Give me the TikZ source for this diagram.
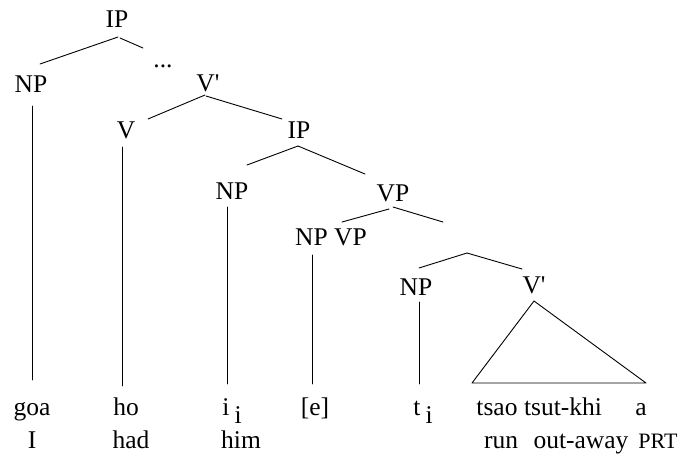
\documentclass[tikz,border=0pt]{standalone}
\usepackage{fontspec}
\setmainfont{Liberation Serif}
\begin{document}
\begin{tikzpicture}[x=1pt,y=-1pt,
  cat/.style={anchor=base,inner sep=0pt,font=\fontsize{25.5}{30}\selectfont},
  word/.style={anchor=base,inner sep=0pt,font=\fontsize{25.5}{30}\selectfont},
  branch/.style={line width=0.9pt,line cap=round}]
\useasboundingbox (0,0) rectangle (682,456);

% category labels
\node[cat] (ip1) at (117,27) {IP};
\node[cat] (dots) at (163,67) {...};
\node[cat] (np1) at (31,92) {NP};
\node[cat] (vbar1) at (208,91) {V\textquotesingle};
\node[cat] (v) at (126,138) {V};
\node[cat] (ip2) at (299,138) {IP};
\node[cat] (np2) at (232,199) {NP};
\node[cat] (vp1) at (393,201) {VP};
\node[cat] (npvp) at (331,245) {NP VP};
\node[cat] (np3) at (416,295) {NP};
\node[cat] (vbar2) at (534,293) {V\textquotesingle};

% first row of words
\node[word] (goa) at (32,415) {goa};
\node[word] (ho) at (126,415) {ho};
\node[word] (ii) at (232,415) {i\hspace{5pt}\raisebox{-8pt}{i}};
\node[word] (e) at (315,415) {[e]};
\node[word] (ti) at (423,415) {t\hspace{5pt}\raisebox{-8pt}{i}};
\node[word] (tsao) at (497,415) {tsao};
\node[word] (tsut) at (563,415) {tsut-khi};
\node[word] (a) at (641,415) {a};

% glosses
\node[word] (gI) at (32,448) {I};
\node[word] (ghad) at (131,448) {had};
\node[word] (ghim) at (241,448) {him};
\node[word] (grun) at (501,448) {run};
\node[word] (gout) at (581,448) {out-away};
\node[anchor=base,inner sep=0pt,font=\fontsize{22}{26}\selectfont] (gprt) at (658,448) {PRT};

% branch end points
\coordinate (ip1a) at (118,37);  \coordinate (ip1l) at (40,64);
\coordinate (ip1b) at (120,38);  \coordinate (ip1r) at (143,48);
\coordinate (vb1a) at (205,95);  \coordinate (vb1l) at (148,119);
\coordinate (vb1b) at (206,96);  \coordinate (vb1r) at (282,119);
\coordinate (ip2a) at (298,146); \coordinate (ip2l) at (247,165);
\coordinate (ip2r) at (365,174);
\coordinate (vp1a) at (389,209); \coordinate (vp1l) at (342,222);
\coordinate (vp1b) at (393,207); \coordinate (vp1r) at (443,222);
\coordinate (vp2) at (467,253);  \coordinate (vp2l) at (419,268);
\coordinate (vp2r) at (522,269);
\coordinate (tri) at (534,301);  \coordinate (tril) at (472,383);
\coordinate (trir) at (646,383);

\draw[branch] (ip1a) -- (ip1l);
\draw[branch] (ip1b) -- (ip1r);
\draw[branch] (vb1a) -- (vb1l);
\draw[branch] (vb1b) -- (vb1r);
\draw[branch] (ip2a) -- (ip2l);
\draw[branch] (ip2a) -- (ip2r);
\draw[branch] (vp1a) -- (vp1l);
\draw[branch] (vp1b) -- (vp1r);
\draw[branch] (vp2) -- (vp2l);
\draw[branch] (vp2) -- (vp2r);
\draw[branch,line join=round] (tri) -- (tril) -- (trir) -- cycle;

% unary lines down to the words
\coordinate (np1t) at (32,106);  \coordinate (np1b) at (32,380);
\coordinate (vt) at (122,147);   \coordinate (vb) at (122,386);
\coordinate (np2t) at (227,207); \coordinate (np2b) at (227,384);
\coordinate (npvpt) at (312,255);\coordinate (npvpb) at (312,384);
\coordinate (np3t) at (419,302); \coordinate (np3b) at (419,384);
\draw[branch] (np1t) -- (np1b);
\draw[branch] (vt) -- (vb);
\draw[branch] (np2t) -- (np2b);
\draw[branch] (npvpt) -- (npvpb);
\draw[branch] (np3t) -- (np3b);
\end{tikzpicture}
\end{document}
